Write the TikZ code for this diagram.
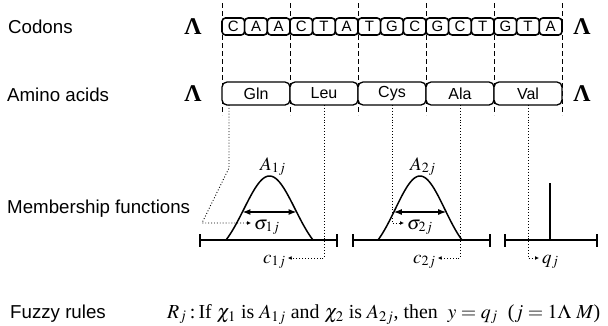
\documentclass[tikz,border=0pt]{standalone}
\usepackage{mathptmx}
\usepackage{fontspec}
\setmainfont{Liberation Serif}
\setsansfont{Liberation Sans}
\usetikzlibrary{arrows.meta,calc}
\begin{document}
\begin{tikzpicture}[x=1pt,y=-1pt,
  lab/.style={font=\sffamily\fontsize{18.7}{20}\selectfont, anchor=base west, inner sep=0},
  lam/.style={font=\fontsize{24}{26}\selectfont\bfseries, inner sep=0},
  codon/.style={draw, line width=1.6, rounded corners=3.5, minimum width=22.67, minimum height=17, inner sep=0, font=\sffamily\fontsize{15}{15}\selectfont, fill=white},
  amino/.style={draw, line width=1.3, rounded corners=5, minimum width=68, minimum height=23, inner sep=0, font=\sffamily\fontsize{16}{16}\selectfont, fill=white},
  sep/.style={dash pattern=on 5pt off 3pt, line width=0.8},
  dotarrow/.style={dotted, line width=0.9, -{Latex[length=4,width=4]}},
  axis/.style={line width=1.3},
  tickbar/.style={line width=2.6},
  bell/.style={line width=1.5},
  sig/.style={line width=1.4, {Latex[length=8,width=6]}-{Latex[length=8,width=6]}},
  mlab/.style={font=\fontsize{19}{21}\selectfont, inner sep=0, anchor=base west}
]
\useasboundingbox (0,0) rectangle (608,325);

% left labels
\node[lab] (lc) at (8,33) {Codons};
\node[lab] (la) at (7,101) {Amino acids};
\node[lab] (lm) at (7,213) {Membership functions};
\node[lab] (lf) at (10,318) {Fuzzy rules};

% separators
\foreach \i in {0,...,5}{
  \coordinate (dt\i) at ({222+68*\i},3);
  \coordinate (db\i) at ({222+68*\i},115);
  \draw[sep] (dt\i) -- (db\i);
}

% codons
\foreach \c [count=\i from 0] in {C,A,A,C,T,A,T,G,C,G,C,T,G,T,A}
  \node[codon] (c\i) at ({222+11.333+22.667*\i},26.5) {\c};
% amino acids
\foreach \a [count=\i from 0] in {Gln,Leu,Cys,Ala,Val}
  \node[amino] (a\i) at ({222+34+68*\i},93.5) {\a};

% Lambdas
\node[lam] (lamc1) at (193,27) {Λ};
\node[lam] (lamc2) at (582,27) {Λ};
\node[lam] (lama1) at (193,94) {Λ};
\node[lam] (lama2) at (582,94) {Λ};

% membership function 1
\draw[axis] (200,240) -- (337,240);
\draw[tickbar] (200,234) -- (200,247);
\draw[tickbar] (337,234) -- (337,247);
\draw[bell] plot[domain=-43.5:43.5, samples=61] ({269.5+\x},{240-64*(exp(-\x*\x/1300.5)-0.2334)/0.7666});
\coordinate (s1l) at (242.4,212);
\coordinate (s1r) at (296.6,212);
\draw[sig] (s1l) -- (s1r);
\node[mlab] (A1) at (260,170) {$A_{1j}$};
\node[mlab] (S1) at (254,229) {$\sigma_{1j}$};
\node[mlab] (C1) at (263,263) {$c_{1j}$};

% membership function 2
\draw[axis] (353,240) -- (490,240);
\draw[tickbar] (353,234) -- (353,247);
\draw[tickbar] (490,234) -- (490,247);
\draw[bell] plot[domain=-42:42, samples=61] ({420+\x},{240-64*(exp(-\x*\x/1212)-0.2334)/0.7666});
\coordinate (s2l) at (393.8,212);
\coordinate (s2r) at (446.2,212);
\draw[sig] (s2l) -- (s2r);
\node[mlab] (A2) at (410,170) {$A_{2j}$};
\node[mlab] (S2) at (407,229) {$\sigma_{2j}$};
\node[mlab] (C2) at (413,263) {$c_{2j}$};

% membership function 3
\draw[axis] (505,240) -- (597,240);
\draw[tickbar] (505,234) -- (505,247);
\draw[tickbar] (597,234) -- (597,247);
\coordinate (qtop) at (550,183);
\coordinate (qbot) at (550,240);
\draw[line width=1.2] (qtop) -- (qbot);
\node[mlab] (Q) at (542,263) {$q_j$};

% dotted connectors
\coordinate (g0) at (229,105);
\coordinate (g1) at (229,168);
\coordinate (g2) at (202,223);
\draw[dotarrow] (g0) -- (g1) -- (g2) -- ([xshift=-3]S1.west |- g2);
\coordinate (l0) at (324,105);
\coordinate (l1) at (324,258);
\draw[dotarrow] (l0) -- (l1) -- ([xshift=2]C1.east |- l1);
\coordinate (y0) at (392,105);
\coordinate (y1) at (392,223);
\draw[dotarrow] (y0) -- (y1) -- ([xshift=-3]S2.west |- y1);
\coordinate (k0) at (460,105);
\coordinate (k1) at (460,258);
\draw[dotarrow] (k0) -- (k1) -- ([xshift=2]C2.east |- k1);
\coordinate (v0) at (528,105);
\coordinate (v1) at (528,258);
\draw[dotarrow] (v0) -- (v1) -- ([xshift=-3]Q.west |- v1);

% fuzzy rule
\node[anchor=base west, inner sep=0, font=\fontsize{20}{22}\selectfont] (rule) at (167,318)
  {\resizebox{433pt}{!}{$R_j$\,:\,If $\chi_1$ is $A_{1j}$ and $\chi_2$ is $A_{2j}$,\ then\ \ $y=q_j$\ \ ($j=1\Lambda\ M$)}};
\end{tikzpicture}
\end{document}
